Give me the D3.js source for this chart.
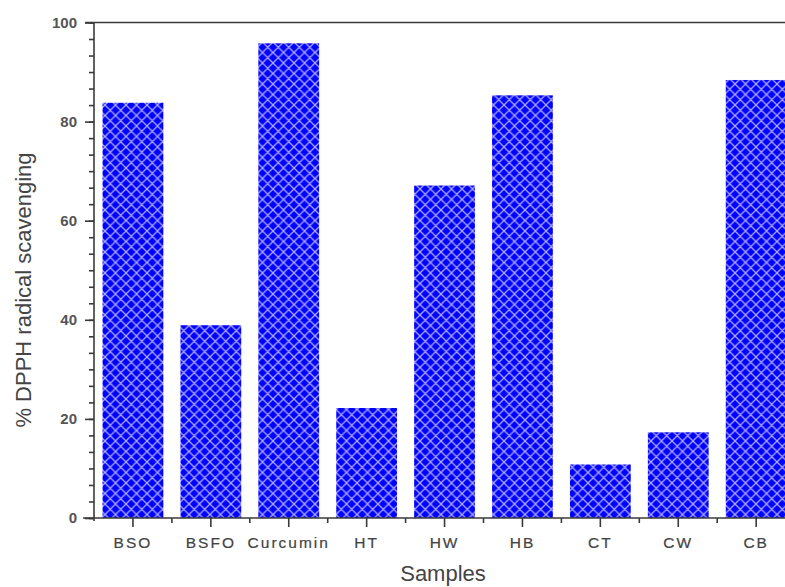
<!DOCTYPE html>
<html>
<head>
<meta charset="utf-8">
<script src="https://cdn.jsdelivr.net/npm/d3@7"></script>
<style>
  body { margin: 0; background: #fff; }
  svg { display: block; font-family: Arial, "Liberation Sans", sans-serif; }
</style>
</head>
<body>
<script>
// data
var samples = ["BSO", "BSFO", "Curcumin", "HT", "HW", "HB", "CT", "CW", "CB"];
var scavenging = [83.8, 38.9, 95.8, 22.2, 67.1, 85.3, 10.8, 17.3, 88.4];
var yTicks = [0, 20, 40, 60, 80, 100];

var width = 785, height = 587;
var margin = {top: 22.5, left: 94, bottom: 518};

var svg = d3.select("body").append("svg")
    .attr("width", width)
    .attr("height", height);

// hatch pattern: blue with light diagonal crosshatch
var hs = 10.5;
var defs = svg.append("defs");
var pat = defs.append("pattern")
    .attr("id", "hatch")
    .attr("patternUnits", "userSpaceOnUse")
    .attr("width", hs)
    .attr("height", hs);
pat.append("rect").attr("width", hs).attr("height", hs).attr("fill", "#0000ff");
pat.append("path")
    .attr("d", "M0,0 L" + hs + "," + hs + " M" + hs + ",0 L0," + hs +
               " M-1,1 L1,-1 M" + (hs - 1) + "," + (hs + 1) + " L" + (hs + 1) + "," + (hs - 1) +
               " M-1," + (hs - 1) + " L1," + (hs + 1) + " M" + (hs - 1) + ",-1 L" + (hs + 1) + ",1")
    .attr("stroke", "#aaaaff")
    .attr("stroke-width", 1.3);

var x = d3.scaleBand()
    .domain(samples)
    .range([margin.left, margin.left + 9 * 77.9])
    .paddingInner(0.22)
    .paddingOuter(0.11);

var y = d3.scaleLinear()
    .domain([0, 100])
    .range([margin.bottom, margin.top]);

// bars
svg.selectAll("rect.bar")
    .data(samples)
    .enter().append("rect")
    .attr("class", "bar")
    .attr("x", function(d) { return x(d); })
    .attr("width", x.bandwidth())
    .attr("y", function(d, i) { return y(scavenging[i]); })
    .attr("height", function(d, i) { return y(0) - y(scavenging[i]); })
    .attr("fill", "url(#hatch)");

var axisColor = "#3a3a3a";

// y axis: majors with labels, minors every 20/6
var yAxis = svg.append("g")
    .attr("transform", "translate(" + margin.left + ",0)")
    .call(d3.axisLeft(y).tickValues(yTicks).tickSize(9).tickPadding(8));
var minors = d3.range(0, 100.01, 20 / 6);
svg.append("g")
    .attr("transform", "translate(" + margin.left + ",0)")
    .call(d3.axisLeft(y).tickValues(minors).tickSize(5).tickFormat(""))
    .select(".domain").remove();
yAxis.select(".domain").attr("d", "M0," + (y(100)) + "V" + (y(0) + 3));
yAxis.selectAll("text")
    .attr("font-size", 15)
    .attr("font-weight", "bold")
    .attr("fill", "#555");

// top frame line
svg.append("line")
    .attr("x1", margin.left - 9).attr("x2", width)
    .attr("y1", y(100)).attr("y2", y(100))
    .attr("stroke", axisColor).attr("stroke-width", 1.6);

// x axis: ticks at centres, minor ticks between bands
var xAxis = svg.append("g")
    .attr("transform", "translate(0," + margin.bottom + ")")
    .call(d3.axisBottom(x).tickSize(9).tickPadding(10));
xAxis.select(".domain").attr("d", "M" + (margin.left - 11) + ",0H" + width);
xAxis.selectAll("text")
    .attr("font-size", 15.5)
    .attr("letter-spacing", "2px")
    .attr("fill", "#444")
    .attr("stroke", "#444")
    .attr("stroke-width", 0.2);
var step = x.step();
var betweens = d3.range(1, samples.length).map(function(i) { return margin.left + i * step; });
svg.append("g")
    .attr("transform", "translate(0," + margin.bottom + ")")
    .selectAll("line")
    .data(betweens)
    .enter().append("line")
    .attr("x1", function(d) { return d; }).attr("x2", function(d) { return d; })
    .attr("y1", 0).attr("y2", 5)
    .attr("stroke", axisColor).attr("stroke-width", 1.6);

svg.selectAll(".domain, .tick line")
    .attr("stroke", axisColor)
    .attr("stroke-width", 1.6);

// axis titles
svg.append("text")
    .attr("transform", "translate(31,290) rotate(-90)")
    .attr("text-anchor", "middle")
    .attr("font-size", 22)
    .attr("fill", "#444")
    .text("% DPPH radical scavenging");

svg.append("text")
    .attr("x", 443)
    .attr("y", 581)
    .attr("text-anchor", "middle")
    .attr("font-size", 22)
    .attr("fill", "#444")
    .text("Samples");
</script>
</body>
</html>
